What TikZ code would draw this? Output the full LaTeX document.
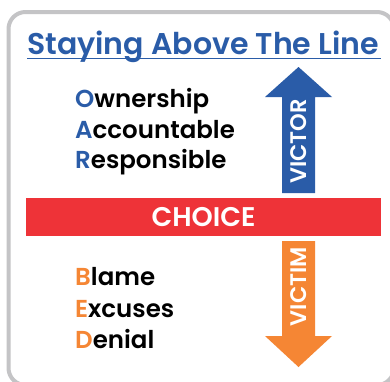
\documentclass[tikz,border=0pt]{standalone}
\usepackage{fontspec}
\setmainfont{Poppins}[BoldFont={* SemiBold}]
\definecolor{oarblue}{HTML}{2A5CA8}
\definecolor{bedorange}{HTML}{F58634}
\definecolor{choicered}{HTML}{EE3338}
\definecolor{framegray}{HTML}{C4C4C6}
\begin{document}
\begin{tikzpicture}[x=1pt,y=-1pt,
  item/.style={anchor=base west,inner sep=0pt,font=\fontsize{24.5}{24.5}\selectfont\bfseries},
  arrowtext/.style={rotate=90,text=white,inner sep=0pt,font=\fontsize{22.5}{22.5}\selectfont\bfseries}]
\useasboundingbox (0,0) rectangle (390,381);
\clip (0,0) rectangle (390,381);
\fill[white] (0,0) rectangle (390,381);
% outer frame, running just past the right and bottom edges
\draw[framegray,line width=4pt,rounded corners=17pt] (8.5,12) rectangle (394,385);
% title with underline
\node[anchor=base west,inner sep=0pt,text=oarblue,font=\fontsize{30}{30}\selectfont\bfseries] (title) at (27,54) {Staying Above The Line};
\draw[oarblue,line width=1.6pt] (27,58.5) -- (381,58.5);
% upper list
\node[item] (own) at (75,107) {\textcolor{oarblue}{O}wnership};
\node[item] (acc) at (75,138) {\textcolor{oarblue}{A}ccountable};
\node[item] (res) at (75,168) {\textcolor{oarblue}{R}esponsible};
% victor arrow
\fill[oarblue] (282,193) -- (282,97) -- (265,97) -- (298.5,67) -- (332,97) -- (315,97) -- (315,193) -- cycle;
\node[arrowtext] (victor) at (299,141.5) {VICTOR};
% choice bar
\fill[choicered] (26,198) rectangle (381,236);
\node[text=white,inner sep=0pt,font=\fontsize{27}{27}\selectfont\bfseries] (choice) at (203.5,217) {CHOICE};
% lower list
\node[item] (bla) at (75,285) {\textcolor{bedorange}{B}lame};
\node[item] (exc) at (75,317) {\textcolor{bedorange}{E}xcuses};
\node[item] (den) at (75,348) {\textcolor{bedorange}{D}enial};
% victim arrow
\fill[bedorange] (282,241) -- (315,241) -- (315,336) -- (332,336) -- (298.5,367) -- (265,336) -- (282,336) -- cycle;
\node[arrowtext] (victim) at (299,286.5) {VICTIM};
\end{tikzpicture}
\end{document}
